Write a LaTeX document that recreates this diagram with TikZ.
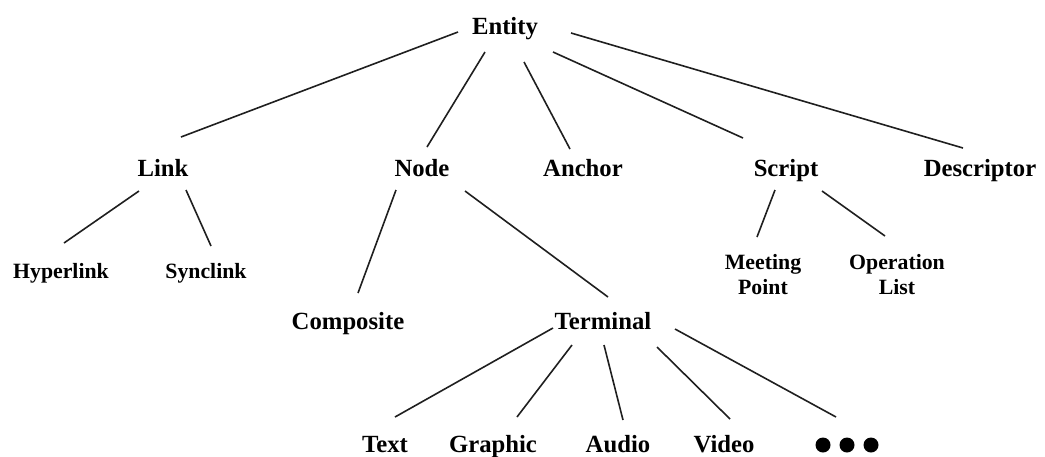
\documentclass[tikz,border=0pt]{standalone}
\usepackage{fontspec}
\setmainfont{Liberation Serif}
\begin{document}
\tikzset{
  big/.style={font=\fontsize{24.7}{28}\selectfont\bfseries, inner sep=0pt, anchor=base},
  small/.style={font=\fontsize{21.8}{25}\selectfont\bfseries, inner sep=0pt, anchor=base},
  edge/.style={line width=1.6pt, draw=black!88},
}
\begin{tikzpicture}[x=1pt,y=-1pt]
\useasboundingbox (0,0) rectangle (1045,456);

% root and first level
\node[big] (entity) at (505,34) {Entity};
\node[big] (link) at (163,176) {Link};
\node[big] (node) at (422,176) {Node};
\node[big] (anchor) at (583,176) {Anchor};
\node[big] (script) at (786,176) {Script};
\node[big] (descriptor) at (980,176) {Descriptor};

% link children
\node[small] (hyperlink) at (61,278) {Hyperlink};
\node[small] (synclink) at (206,278) {Synclink};

% node children
\node[big] (composite) at (348,329) {Composite};
\node[big] (terminal) at (603,329) {Terminal};

% script children
\node[small, align=center, anchor=center] (meeting) at (763,275) {Meeting\\Point};
\node[small, align=center, anchor=center] (operation) at (897,275) {Operation\\List};

% terminal children
\node[big] (text) at (385,452) {Text};
\node[big] (graphic) at (493,452) {Graphic};
\node[big] (audio) at (618,452) {Audio};
\node[big] (video) at (724,452) {Video};
\node[minimum width=66pt, minimum height=15pt, inner sep=0pt] (dots) at (847,445) {};
\foreach \dx in {-24,0,24}
  \fill[black] ([shift={(\dx,0)}]dots.center) circle (7.5pt);

% connectors
\draw[edge] ([shift={(-47,-2)}]entity.base) -- ([shift={(18,-39)}]link.base);
\draw[edge] ([shift={(-20,18)}]entity.base) -- ([shift={(5,-29)}]node.base);
\draw[edge] ([shift={(19,28)}]entity.base) -- ([shift={(-13,-27)}]anchor.base);
\draw[edge] ([shift={(48,18)}]entity.base) -- ([shift={(-43,-38)}]script.base);
\draw[edge] ([shift={(66,-1)}]entity.base) -- ([shift={(-17,-28)}]descriptor.base);

\draw[edge] ([shift={(-24,15)}]link.base) -- ([shift={(3,-35)}]hyperlink.base);
\draw[edge] ([shift={(23,14)}]link.base) -- ([shift={(5,-32)}]synclink.base);

\draw[edge] ([shift={(-26,14)}]node.base) -- ([shift={(10,-36)}]composite.base);
\draw[edge] ([shift={(43,15)}]node.base) -- ([shift={(5,-32)}]terminal.base);

\draw[edge] ([shift={(-11,14)}]script.base) -- ([shift={(-6,-38)}]meeting.center);
\draw[edge] ([shift={(36,15)}]script.base) -- ([shift={(-12,-39)}]operation.center);

\draw[edge] ([shift={(-50,-1)}]terminal.base) -- ([shift={(10,-35)}]text.base);
\draw[edge] ([shift={(-31,16)}]terminal.base) -- ([shift={(24,-35)}]graphic.base);
\draw[edge] ([shift={(1,16)}]terminal.base) -- ([shift={(5,-32)}]audio.base);
\draw[edge] ([shift={(54,18)}]terminal.base) -- ([shift={(6,-33)}]video.base);
\draw[edge] ([shift={(72,0)}]terminal.base) -- ([shift={(-11,-28)}]dots.center);
\end{tikzpicture}
\end{document}
